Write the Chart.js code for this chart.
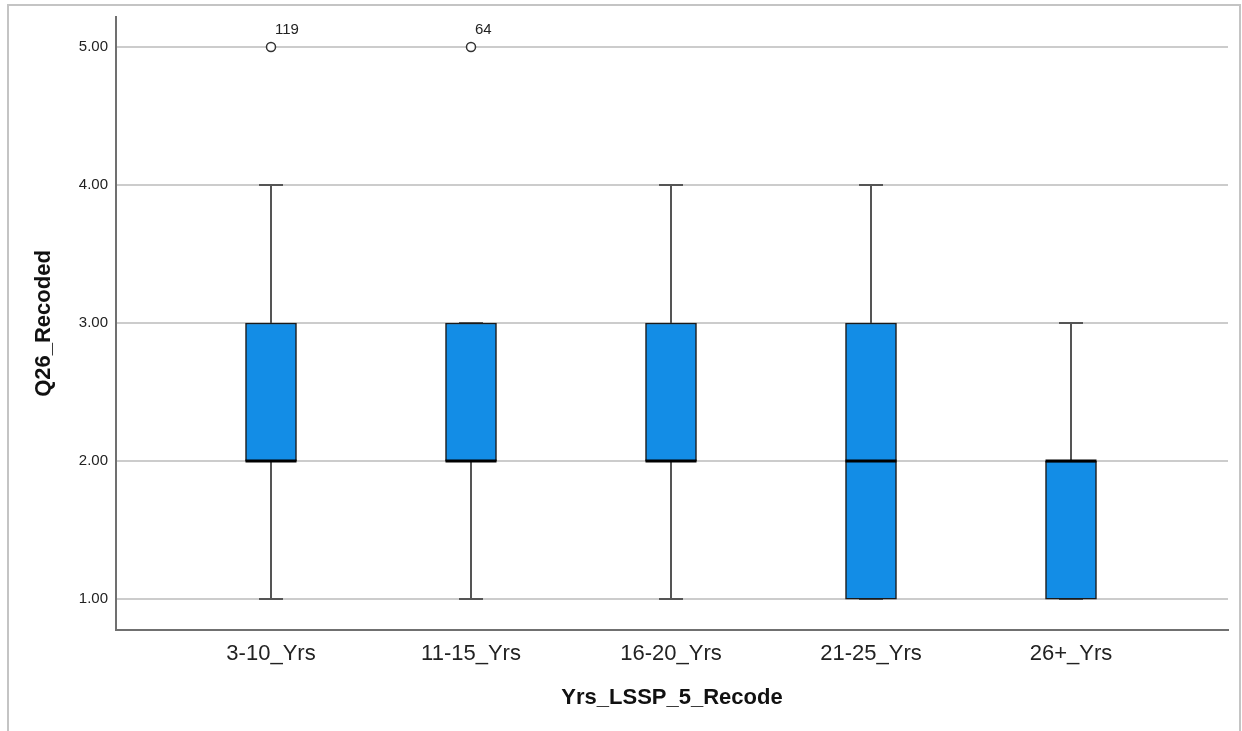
<!DOCTYPE html>
<html lang="en">
<head>
    <meta charset="UTF-8">
    <title>Q26_Recoded by Yrs_LSSP_5_Recode</title>

    <!-- Include Chart.js -->
    <script src="https://cdn.jsdelivr.net/npm/chart.js"></script>

    <style>
        body {
            margin: 0;
            background: #ffffff;
            overflow: hidden;
        }
        .wrap {
            position: relative;
            width: 1242px;
            height: 731px;
        }
        /* thin grey viewer frame round the plot */
        .frame {
            position: absolute;
            left: 7px;
            top: 4px;
            width: 1234px;
            height: 740px;
            box-sizing: border-box;
            border: 2px solid #c4c4c4;
        }
        canvas {
            position: absolute;
            left: 0;
            top: 0;
        }
    </style>
</head>
<body>

<div class="wrap">
    <div class="frame"></div>
    <canvas id="boxChart" width="1242" height="731"></canvas>
</div>

<script>
    // Groups along the x axis
    const categories = ['3-10_Yrs', '11-15_Yrs', '16-20_Yrs', '21-25_Yrs', '26+_Yrs'];

    // Five-number summary per group
    const whiskerLow  = [1, 1, 1, 1, 1];
    const quartile1   = [2, 2, 2, 1, 1];
    const medians     = [2, 2, 2, 2, 2];
    const quartile3   = [3, 3, 3, 3, 2];
    const whiskerHigh = [4, 3, 4, 4, 3];

    // Outliers and their case numbers
    const outlierValues = [[5], [5], [], [], []];
    const outlierCases  = [['119'], ['64'], [], [], []];

    // Value ticks on the y axis
    const yTicks = [1, 2, 3, 4, 5];

    const boxColor = '#138de6';
    const fontFamily = '"Liberation Sans", Arial, sans-serif';

    const outlierPoints = [];
    const outlierTexts = [];
    outlierValues.forEach(function (vals, i) {
        vals.forEach(function (v, k) {
            outlierPoints.push({ x: i, y: v });
            outlierTexts.push(outlierCases[i][k]);
        });
    });

    // Whiskers, medians and outlier case labels drawn round the bars
    const boxPlotParts = {
        id: 'boxPlotParts',
        beforeDatasetsDraw: function (chart) {
            const ctx = chart.ctx;
            const xs = chart.scales.x;
            const ys = chart.scales.y;
            ctx.save();
            ctx.strokeStyle = '#555555';
            ctx.lineWidth = 2;
            categories.forEach(function (c, i) {
                const cx = Math.round(xs.getPixelForValue(i));
                const yLow = ys.getPixelForValue(whiskerLow[i]);
                const yQ1 = ys.getPixelForValue(quartile1[i]);
                const yQ3 = ys.getPixelForValue(quartile3[i]);
                const yHigh = ys.getPixelForValue(whiskerHigh[i]);
                ctx.beginPath();
                ctx.moveTo(cx, yLow);
                ctx.lineTo(cx, yQ1);
                ctx.moveTo(cx, yQ3);
                ctx.lineTo(cx, yHigh);
                // caps
                ctx.moveTo(cx - 12, yLow);
                ctx.lineTo(cx + 12, yLow);
                ctx.moveTo(cx - 12, yHigh);
                ctx.lineTo(cx + 12, yHigh);
                ctx.stroke();
            });
            ctx.restore();
        },
        afterDatasetsDraw: function (chart) {
            const ctx = chart.ctx;
            const xs = chart.scales.x;
            const ys = chart.scales.y;
            const bars = chart.getDatasetMeta(0).data;
            ctx.save();
            ctx.strokeStyle = '#000000';
            ctx.lineWidth = 3;
            categories.forEach(function (c, i) {
                const half = bars[i].width / 2;
                const cx = xs.getPixelForValue(i);
                const ym = ys.getPixelForValue(medians[i]);
                ctx.beginPath();
                ctx.moveTo(cx - half, ym);
                ctx.lineTo(cx + half, ym);
                ctx.stroke();
            });
            ctx.fillStyle = '#222222';
            ctx.font = '15px ' + fontFamily;
            ctx.textAlign = 'left';
            ctx.textBaseline = 'bottom';
            outlierPoints.forEach(function (p, k) {
                const px = xs.getPixelForValue(p.x);
                const py = ys.getPixelForValue(p.y);
                ctx.fillText(outlierTexts[k], px + 4, py - 10);
            });
            ctx.restore();
        }
    };

    function initializeChart(ctx) {
        window.boxChart = new Chart(ctx, {
            type: 'bar',
            data: {
                datasets: [{
                    type: 'bar',
                    data: categories.map(function (c, i) {
                        return { x: i, y: [quartile1[i], quartile3[i]] };
                    }),
                    backgroundColor: boxColor,
                    borderColor: '#1a1a1a',
                    borderWidth: 1.5,
                    borderSkipped: false,
                    barThickness: 51,
                    order: 2
                }, {
                    type: 'scatter',
                    data: outlierPoints,
                    pointStyle: 'circle',
                    pointRadius: 4.5,
                    pointBackgroundColor: '#ffffff',
                    pointBorderColor: '#333333',
                    pointBorderWidth: 1.5,
                    order: 1
                }]
            },
            options: {
                responsive: false,
                animation: false,
                layout: {
                    padding: { left: 0, top: 15, right: 14, bottom: 0 }
                },
                plugins: {
                    legend: { display: false },
                    tooltip: { enabled: false }
                },
                scales: {
                    x: {
                        type: 'linear',
                        offset: false,
                        min: -0.775,
                        max: 4.785,
                        afterBuildTicks: function (scale) {
                            scale.ticks = categories.map(function (c, i) { return { value: i }; });
                        },
                        afterFit: function (scale) {
                            scale.height = 101;
                        },
                        grid: { display: false, drawTicks: false },
                        border: { display: true, color: '#707070', width: 2 },
                        ticks: {
                            padding: 11,
                            color: '#222222',
                            font: { family: fontFamily, size: 22 },
                            maxRotation: 0,
                            callback: function (v) { return categories[v]; }
                        },
                        title: {
                            display: true,
                            text: 'Yrs_LSSP_5_Recode',
                            color: '#111111',
                            font: { family: fontFamily, size: 22, weight: 'bold' },
                            padding: { top: 0, bottom: 20 }
                        }
                    },
                    y: {
                        min: 0.776,
                        max: 5.217,
                        afterBuildTicks: function (scale) {
                            scale.ticks = yTicks.map(function (v) { return { value: v }; });
                        },
                        afterFit: function (scale) {
                            scale.width = 116;
                        },
                        grid: { color: '#cccccc', lineWidth: 2, drawTicks: false },
                        border: { display: true, color: '#707070', width: 2 },
                        ticks: {
                            padding: 8,
                            color: '#222222',
                            font: { family: fontFamily, size: 15 },
                            callback: function (v) { return v.toFixed(2); }
                        },
                        title: {
                            display: true,
                            text: 'Q26_Recoded',
                            color: '#111111',
                            font: { family: fontFamily, size: 22, weight: 'bold' },
                            padding: { top: 31, bottom: 0 }
                        }
                    }
                }
            },
            plugins: [boxPlotParts]
        });
    }

    document.addEventListener('DOMContentLoaded', function () {
        const ctx = document.getElementById('boxChart').getContext('2d');
        initializeChart(ctx);
    });
</script>

</body>
</html>
